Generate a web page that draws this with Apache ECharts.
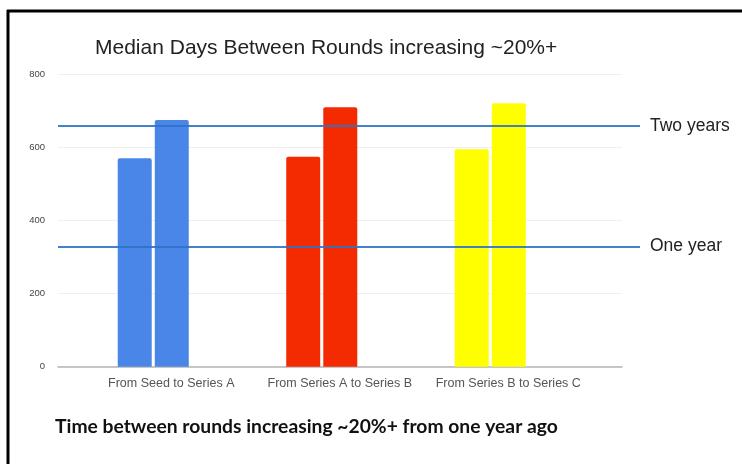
<!DOCTYPE html>
<html>
<head>
<meta charset="utf-8">
<script src="https://cdn.jsdelivr.net/npm/echarts@6/dist/echarts.min.js"></script>
<style>html,body{margin:0;padding:0;background:#fff;}#c{width:742px;height:464px;}</style>
</head>
<body>
<div id="c"></div>
<script>
const categories = ['From Seed to Series A', 'From Series A to Series B', 'From Series B to Series C'];
const earlierDays = [571, 575, 596];
const recentDays = [676, 711, 722];
const barColors = ['#4a86e8', '#f42a00', '#ffff00'];
const refLineNames = ['Two years', 'One year'];
const refLineValues = [659, 329];
const yMin = 0, yMax = 800, yStep = 200;
const chartTitle = 'Median Days Between Rounds increasing ~20%+';
const footnote = 'Time between rounds increasing ~20%+ from one year ago';

const chart = echarts.init(document.getElementById('c'));
const gridTop = 74.7, gridBottom = 464 - 366.7;

const colorItem = (v, i) => ({ value: v, itemStyle: { color: barColors[i] } });

chart.setOption({
  animation: false,
  backgroundColor: '#fff',
  title: [
    { text: chartTitle, left: 90, top: 33,
      textStyle: { fontFamily: 'Liberation Sans, Arial, sans-serif', fontSize: 21, fontWeight: 'normal', color: '#222' } },
    { text: footnote, left: 50, top: 412,
      textStyle: { fontFamily: 'Lato, sans-serif', fontSize: 19.3, fontWeight: 'bold', color: '#111' } }
  ],
  graphic: [
    { type: 'line', shape: { x1: 7, y1: 11, x2: 742, y2: 11 }, style: { stroke: '#000', lineWidth: 3 } },
    { type: 'line', shape: { x1: 8, y1: 10, x2: 8, y2: 464 }, style: { stroke: '#000', lineWidth: 3 } }
  ],
  grid: [
    { left: 58, right: 742 - 622, top: gridTop, bottom: gridBottom },
    { left: 69, right: 742 - 574.5, top: gridTop, bottom: gridBottom },
    { left: 58, right: 742 - 640, top: gridTop, bottom: gridBottom }
  ],
  xAxis: [
    { gridIndex: 0, type: 'category', data: [''], axisLine: { lineStyle: { color: '#b5b5b5', width: 1.5 } },
      axisTick: { show: false }, axisLabel: { show: false } },
    { gridIndex: 1, type: 'category', data: categories, axisLine: { show: false }, axisTick: { show: false },
      axisLabel: { interval: 0, margin: 10, padding: [0, 0, 0, 36], fontFamily: 'Liberation Sans, Arial, sans-serif', fontSize: 12.5, color: '#555' } },
    { gridIndex: 2, type: 'value', show: false, min: 0, max: 1 }
  ],
  yAxis: [
    { gridIndex: 0, type: 'value', min: yMin, max: yMax, interval: yStep,
      axisLine: { show: false }, axisTick: { show: false },
      axisLabel: { margin: 13, fontFamily: 'Liberation Sans, Arial, sans-serif', fontSize: 9.5, color: '#444' },
      splitLine: { lineStyle: { color: '#efefef', width: 1 } } },
    { gridIndex: 1, type: 'value', min: yMin, max: yMax, show: false, splitLine: { show: false } },
    { gridIndex: 2, type: 'value', min: yMin, max: yMax, show: false, splitLine: { show: false } }
  ],
  series: [
    { type: 'bar', xAxisIndex: 1, yAxisIndex: 1, barWidth: 34, barGap: '9%',
      itemStyle: { borderRadius: [2, 2, 0, 0] }, data: earlierDays.map(colorItem) },
    { type: 'bar', xAxisIndex: 1, yAxisIndex: 1, barWidth: 34, barGap: '9%',
      itemStyle: { borderRadius: [2, 2, 0, 0] }, data: recentDays.map(colorItem) },
    { type: 'line', xAxisIndex: 2, yAxisIndex: 2, data: [], silent: true, z: 5,
      markLine: {
        symbol: ['none', 'none'], silent: true, animation: false,
        lineStyle: { type: 'solid', color: 'rgba(45,115,198,0.9)', width: 2 },
        label: { show: true, position: 'end', distance: 10, formatter: '{b}',
          fontFamily: 'Liberation Sans, Arial, sans-serif', fontSize: 17.5, color: '#222' },
        emphasis: { disabled: true },
        data: refLineNames.map((n, i) => ({ name: n, yAxis: refLineValues[i] }))
      } }
  ]
});
</script>
</body>
</html>
